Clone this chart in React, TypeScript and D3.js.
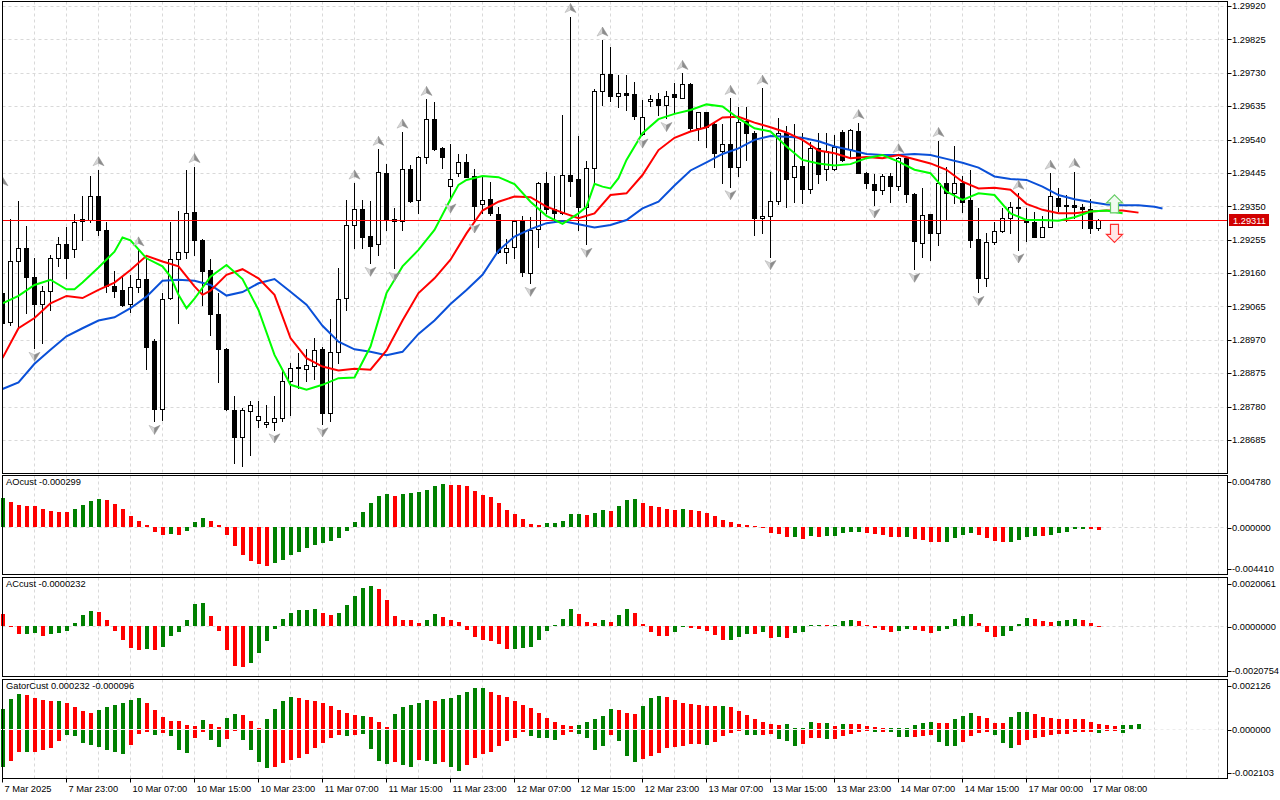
import React from "react";
import * as d3 from "d3";

// H1 bars: [open, high, low, close]
const candles: [number, number, number, number][] = [
  [1.29103, 1.29397, 1.29013, 1.29019], [1.29022, 1.29314, 1.29013, 1.29195], [1.29193, 1.29365, 1.29003, 1.29231],
  [1.29231, 1.29294, 1.29046, 1.29148], [1.29148, 1.29202, 1.28946, 1.29071], [1.29071, 1.29124, 1.28962, 1.29109],
  [1.2911, 1.29212, 1.29055, 1.29202], [1.29202, 1.29262, 1.29181, 1.29242], [1.29242, 1.29292, 1.29145, 1.29202],
  [1.29228, 1.29327, 1.29207, 1.29305], [1.29308, 1.2938, 1.29254, 1.29314], [1.29312, 1.29435, 1.29304, 1.29379],
  [1.29379, 1.29454, 1.29268, 1.29284], [1.29284, 1.29305, 1.29105, 1.29124], [1.29124, 1.29166, 1.29093, 1.2911],
  [1.29112, 1.2915, 1.29067, 1.2907], [1.29071, 1.29154, 1.29048, 1.2912], [1.2912, 1.29226, 1.29107, 1.29143],
  [1.29143, 1.29199, 1.28887, 1.28951], [1.28967, 1.28972, 1.28738, 1.28773], [1.28773, 1.29103, 1.28741, 1.29086],
  [1.29089, 1.29304, 1.29085, 1.29201], [1.29201, 1.29338, 1.29017, 1.29221], [1.29221, 1.29454, 1.29202, 1.2933],
  [1.29334, 1.29463, 1.29212, 1.29253], [1.29253, 1.29256, 1.2907, 1.29167], [1.29169, 1.292, 1.28984, 1.29043],
  [1.29043, 1.29103, 1.28849, 1.28943], [1.28944, 1.28946, 1.28771, 1.28773], [1.28771, 1.28809, 1.28619, 1.28693],
  [1.28693, 1.28776, 1.28612, 1.28771], [1.28767, 1.28795, 1.28643, 1.28784], [1.28741, 1.28795, 1.28721, 1.28754],
  [1.2873, 1.28785, 1.28722, 1.28736], [1.28736, 1.28809, 1.28714, 1.28747], [1.28747, 1.28885, 1.28738, 1.28853],
  [1.28853, 1.28904, 1.28757, 1.28889], [1.28892, 1.28932, 1.28833, 1.28889], [1.28888, 1.28943, 1.28852, 1.28899],
  [1.28896, 1.28975, 1.28859, 1.28942], [1.28943, 1.28951, 1.28731, 1.28761], [1.28761, 1.29029, 1.28738, 1.28935],
  [1.28935, 1.29174, 1.28904, 1.29086], [1.29089, 1.29368, 1.29055, 1.29296], [1.29296, 1.29416, 1.29231, 1.29342],
  [1.29342, 1.29368, 1.29231, 1.29264], [1.29266, 1.29365, 1.29188, 1.29238], [1.29242, 1.29512, 1.29212, 1.29447],
  [1.29444, 1.29471, 1.29283, 1.29311], [1.29314, 1.29344, 1.29174, 1.29308], [1.29308, 1.29561, 1.29283, 1.29455],
  [1.29455, 1.29468, 1.29361, 1.29365], [1.29368, 1.29493, 1.29332, 1.29491], [1.29491, 1.29654, 1.29474, 1.29599],
  [1.29599, 1.29648, 1.2951, 1.29513], [1.29517, 1.2952, 1.29458, 1.29491], [1.29408, 1.29527, 1.29368, 1.29427],
  [1.29444, 1.29499, 1.29436, 1.29477], [1.29477, 1.29499, 1.29432, 1.29434], [1.29436, 1.29455, 1.29311, 1.29351],
  [1.29356, 1.29433, 1.2933, 1.29368], [1.29371, 1.2942, 1.29326, 1.2933], [1.29328, 1.29347, 1.29218, 1.2922],
  [1.2922, 1.29256, 1.29188, 1.29231], [1.29234, 1.29311, 1.29202, 1.29309], [1.29309, 1.29323, 1.29152, 1.29162],
  [1.2916, 1.29319, 1.29131, 1.29283], [1.29285, 1.2942, 1.29234, 1.29417], [1.29417, 1.29449, 1.29332, 1.29342],
  [1.29342, 1.29436, 1.29304, 1.2933], [1.2933, 1.2961, 1.29328, 1.29439], [1.29439, 1.2989, 1.29378, 1.29423],
  [1.29428, 1.2955, 1.29283, 1.29347], [1.29347, 1.29479, 1.29242, 1.29458], [1.29458, 1.29683, 1.29416, 1.29679],
  [1.29678, 1.29823, 1.29638, 1.29726], [1.29726, 1.29804, 1.29651, 1.29665], [1.29665, 1.29724, 1.29634, 1.29672],
  [1.29672, 1.29724, 1.29624, 1.29668], [1.29669, 1.29705, 1.29598, 1.29608], [1.29555, 1.29653, 1.29553, 1.29603],
  [1.2965, 1.29667, 1.29636, 1.29655], [1.29656, 1.29672, 1.2961, 1.29637], [1.29637, 1.29678, 1.296, 1.29665],
  [1.29669, 1.297, 1.29619, 1.29662], [1.29659, 1.29728, 1.29657, 1.29697], [1.29697, 1.297, 1.29567, 1.29572],
  [1.29572, 1.29619, 1.29539, 1.29617], [1.29617, 1.29619, 1.2952, 1.29577], [1.29584, 1.29591, 1.29461, 1.29503],
  [1.29506, 1.29584, 1.29416, 1.29527], [1.29527, 1.29657, 1.29406, 1.29463], [1.29463, 1.29632, 1.29436, 1.29591],
  [1.29594, 1.29634, 1.29482, 1.2956], [1.2956, 1.29563, 1.29269, 1.29318], [1.29316, 1.29686, 1.29273, 1.29321],
  [1.29321, 1.29449, 1.29207, 1.29366], [1.29366, 1.296, 1.29357, 1.2956], [1.2956, 1.29579, 1.29349, 1.29428],
  [1.29433, 1.29584, 1.29363, 1.29465], [1.29465, 1.29558, 1.29359, 1.29399], [1.29399, 1.29534, 1.29389, 1.29515],
  [1.29515, 1.29558, 1.29416, 1.29441], [1.29455, 1.2956, 1.29425, 1.29506], [1.29455, 1.29553, 1.29454, 1.2952],
  [1.29561, 1.29567, 1.2948, 1.29482], [1.29512, 1.29569, 1.29491, 1.29567], [1.29564, 1.29588, 1.29444, 1.29446],
  [1.29446, 1.29449, 1.29401, 1.29416], [1.29413, 1.29442, 1.29354, 1.29395], [1.29395, 1.29442, 1.29384, 1.29435],
  [1.29435, 1.29444, 1.29362, 1.29409], [1.29409, 1.29491, 1.29395, 1.29487], [1.29487, 1.29488, 1.29363, 1.29384],
  [1.29384, 1.29387, 1.29171, 1.2925], [1.29245, 1.29401, 1.29207, 1.29324], [1.29327, 1.29327, 1.29196, 1.29275],
  [1.29275, 1.29537, 1.2924, 1.29416], [1.29416, 1.29463, 1.29311, 1.29387], [1.29387, 1.29523, 1.29359, 1.29416],
  [1.29416, 1.29436, 1.29335, 1.29363], [1.29368, 1.29452, 1.29234, 1.29253], [1.29256, 1.29344, 1.29105, 1.29145],
  [1.29145, 1.29273, 1.29124, 1.29248], [1.29248, 1.29304, 1.29242, 1.2928], [1.2928, 1.29346, 1.29278, 1.29316],
  [1.29316, 1.29361, 1.29273, 1.29349], [1.29349, 1.29387, 1.29226, 1.29344], [1.29309, 1.29344, 1.2925, 1.29304],
  [1.29304, 1.29335, 1.29262, 1.29264], [1.29264, 1.29321, 1.29262, 1.29292], [1.29292, 1.29444, 1.2929, 1.29378],
  [1.29373, 1.29401, 1.29337, 1.29352], [1.29351, 1.29382, 1.29307, 1.29354], [1.29354, 1.29449, 1.29316, 1.29347],
  [1.29347, 1.29357, 1.29288, 1.29342], [1.29342, 1.29371, 1.29275, 1.29287], [1.29287, 1.29314, 1.29283, 1.29311],
];

const lastPrice = 1.29311;

// Alligator lines as [bar, price]; drawn already shifted forward
const jaw: [number, number][] = [
  [0, 1.2883], [2, 1.28849], [4, 1.28902], [6, 1.28942], [8, 1.2898], [10, 1.29003], [12, 1.29025], [14, 1.29034],
  [16, 1.2906], [18, 1.29093], [20, 1.29138], [22, 1.29141], [24, 1.29138], [26, 1.29126], [28, 1.29096], [30, 1.29106],
  [32, 1.29131], [34, 1.29143], [36, 1.29107], [38, 1.2907], [40, 1.2901], [42, 1.28965], [44, 1.28943], [46, 1.28936],
  [48, 1.28926], [50, 1.28936], [52, 1.28987], [54, 1.29025], [56, 1.29072], [58, 1.29112], [60, 1.29155], [62, 1.29224],
  [64, 1.29264], [66, 1.29285], [68, 1.29302], [70, 1.29308], [72, 1.29299], [74, 1.2929], [76, 1.29297], [78, 1.29311],
  [80, 1.29344], [82, 1.29363], [84, 1.29409], [86, 1.29452], [88, 1.29475], [90, 1.29499], [92, 1.29515], [94, 1.29539],
  [96, 1.2955], [98, 1.29548], [100, 1.29545], [102, 1.29535], [104, 1.2952], [106, 1.2951], [108, 1.29499], [110, 1.29496],
  [112, 1.29496], [114, 1.29499], [116, 1.29496], [118, 1.29485], [120, 1.29474], [122, 1.2946], [124, 1.29435],
  [126, 1.29428], [128, 1.29425], [130, 1.29406], [132, 1.29382], [134, 1.2937], [136, 1.29362], [138, 1.29355],
  [140, 1.29353], [142, 1.29353], [144, 1.29349], [145, 1.29344],
];
const teeth: [number, number][] = [
  [0, 1.28918], [2, 1.29003], [4, 1.29032], [6, 1.29074], [8, 1.29095], [10, 1.29089], [12, 1.29112], [14, 1.29133],
  [16, 1.29169], [18, 1.29209], [20, 1.29193], [22, 1.29179], [24, 1.29122], [25, 1.29098], [26, 1.2911], [28, 1.29155],
  [30, 1.29171], [32, 1.29145], [34, 1.29098], [36, 1.28975], [38, 1.28918], [40, 1.28894], [42, 1.28883], [44, 1.28888],
  [46, 1.28885], [48, 1.2894], [50, 1.29025], [52, 1.29103], [54, 1.29145], [56, 1.29198], [58, 1.29273], [60, 1.29338],
  [62, 1.29363], [64, 1.29378], [66, 1.29376], [68, 1.29349], [70, 1.29332], [72, 1.29316], [74, 1.2933], [76, 1.29382],
  [78, 1.29387], [80, 1.29439], [82, 1.2951], [84, 1.29545], [86, 1.29563], [88, 1.29575], [90, 1.29603], [92, 1.29605],
  [94, 1.29588], [96, 1.29575], [98, 1.2956], [100, 1.29539], [102, 1.29509], [104, 1.29501], [106, 1.29487],
  [108, 1.2949], [110, 1.29487], [112, 1.29496], [114, 1.29484], [116, 1.29472], [118, 1.29454], [120, 1.2942],
  [122, 1.29401], [124, 1.29403], [126, 1.29397], [128, 1.29357], [130, 1.2934], [132, 1.2933], [134, 1.2933],
  [136, 1.29335], [138, 1.29338], [140, 1.29338], [142, 1.29332],
];
const lips: [number, number][] = [
  [0, 1.29074], [2, 1.29095], [4, 1.29126], [6, 1.29141], [8, 1.29114], [9, 1.29114], [10, 1.29133], [12, 1.29176],
  [14, 1.29221], [15, 1.29261], [16, 1.29253], [18, 1.29202], [20, 1.29179], [21, 1.2915], [22, 1.29098], [23, 1.2906],
  [24, 1.29087], [26, 1.2915], [28, 1.29183], [30, 1.29143], [32, 1.29055], [34, 1.28927], [36, 1.28842], [38, 1.28828],
  [40, 1.28842], [42, 1.28861], [44, 1.28863], [46, 1.28951], [48, 1.29103], [50, 1.29179], [52, 1.29226], [54, 1.29283],
  [56, 1.2937], [57, 1.29411], [58, 1.29425], [60, 1.29436], [62, 1.29433], [64, 1.29413], [66, 1.29363], [68, 1.29323],
  [70, 1.293], [72, 1.2933], [73, 1.29349], [74, 1.29414], [75, 1.29406], [76, 1.29401], [77, 1.2943], [78, 1.29482],
  [80, 1.29558], [82, 1.29598], [84, 1.29613], [86, 1.29624], [88, 1.2964], [90, 1.29634], [92, 1.296], [94, 1.29572],
  [96, 1.29563], [98, 1.2952], [100, 1.29482], [102, 1.29472], [104, 1.29466], [106, 1.2947], [108, 1.29487],
  [110, 1.29496], [112, 1.29477], [114, 1.29454], [116, 1.29444], [117, 1.29418], [118, 1.29392], [120, 1.29368],
  [122, 1.29387], [124, 1.29382], [126, 1.2933], [128, 1.29311], [130, 1.29311], [132, 1.29309], [134, 1.29319],
  [136, 1.29335], [138, 1.29338], [140, 1.2933],
];

const fractalUp = [0, 12, 17, 24, 44, 47, 50, 53, 71, 75, 85, 91, 95, 107, 112, 117, 127, 131, 134];
const fractalDown = [4, 19, 34, 40, 46, 49, 56, 59, 66, 73, 80, 83, 91, 96, 109, 114, 122, 127];
const signals = [
  { bar: 139, side: "buy", price: 1.29357 },
  { bar: 139, side: "sell", price: 1.29273 },
];

const priceTicks = [1.2992, 1.29825, 1.2973, 1.29635, 1.2954, 1.29445, 1.2935, 1.29255, 1.2916, 1.29065, 1.2897, 1.28875, 1.2878, 1.28685];
const timeLabels = [
  "7 Mar 2025", "7 Mar 23:00", "10 Mar 07:00", "10 Mar 15:00", "10 Mar 23:00", "11 Mar 07:00", "11 Mar 15:00",
  "11 Mar 23:00", "12 Mar 07:00", "12 Mar 15:00", "12 Mar 23:00", "13 Mar 07:00", "13 Mar 15:00", "13 Mar 23:00",
  "14 Mar 07:00", "14 Mar 15:00", "17 Mar 00:00", "17 Mar 08:00",
];

// Awesome oscillator
const aoBefore = 0.0025;
const aoValues = [
  0.00266, 0.0023, 0.00202, 0.00199, 0.00193, 0.00168, 0.00147, 0.00138, 0.00135, 0.00168,
  0.00202, 0.00239, 0.00257, 0.00248, 0.00211, 0.00168, 0.00104, 0.00055, 0.00021, -0.00046,
  -0.00077, -0.00061, -0.0007, -0.00037, 0.00046, 0.00086, 0.00055, 0.00021, -0.0007, -0.00181,
  -0.0026, -0.00315, -0.00346, -0.00358, -0.00337, -0.00303, -0.00263, -0.00233, -0.00199, -0.00168,
  -0.00153, -0.00132, -0.00098, -0.00037, 0.00046, 0.00138, 0.0022, 0.00285, 0.00303, 0.00285,
  0.00306, 0.00318, 0.00321, 0.0034, 0.00383, 0.00395, 0.00392, 0.00389, 0.00376, 0.0033,
  0.00294, 0.00275, 0.0022, 0.00156, 0.00119, 0.00073, 0.00028, 0.00021, 0.00037, 0.0004,
  0.00058, 0.00122, 0.00125, 0.0011, 0.00129, 0.00156, 0.00153, 0.00193, 0.00248, 0.00257,
  0.0022, 0.00193, 0.00184, 0.00165, 0.00156, 0.00165, 0.00156, 0.00147, 0.00129, 0.00101,
  0.00064, 0.00046, 0.00028, 0.00018, 0.00003, -0.00003, -0.00055, -0.00064, -0.00092, -0.00089,
  -0.0011, -0.00083, -0.00092, -0.00083, -0.0008, -0.00055, -0.00046, -0.00043, -0.00055, -0.00064,
  -0.00073, -0.00092, -0.00095, -0.00092, -0.0011, -0.00119, -0.00138, -0.00141, -0.00138, -0.00101,
  -0.00073, -0.00055, -0.00073, -0.00101, -0.00129, -0.00138, -0.00135, -0.00119, -0.00092, -0.0008,
  -0.00083, -0.00073, -0.00055, -0.00046, -0.00018, -0.00015, -0.00018, -0.000299,
];
const aoRange = [-0.00441, 0.00478];

// Accelerator oscillator
const acBefore = 0.0006;
const acValues = [
  0.00052, -0.00005, -0.00034, -0.00031, -0.00027, -0.00039, -0.00034, -0.00027, -0.00019, 0.00014,
  0.00046, 0.00063, 0.00058, 0.00027, -0.00018, -0.00058, -0.00091, -0.00099, -0.00095, -0.00099,
  -0.00087, -0.00042, -0.00026, 0.00026, 0.00091, 0.00095, 0.00042, -0.00018, -0.00099, -0.00163,
  -0.00169, -0.00152, -0.00112, -0.00063, -0.0001, 0.0003, 0.00054, 0.00065, 0.00068, 0.00069,
  0.00054, 0.00046, 0.00054, 0.00087, 0.00124, 0.00156, 0.00165, 0.00152, 0.00109, 0.00042,
  0.00027, 0.00026, 0.00014, 0.00027, 0.0005, 0.00038, 0.00027, 0.00018, -0.00014, -0.00046,
  -0.00058, -0.0006, -0.00075, -0.00095, -0.00093, -0.00091, -0.00087, -0.00058, -0.00018, 0.00003,
  0.0003, 0.00071, 0.0005, 0.00016, 0.00012, 0.00024, 0.00016, 0.00045, 0.00069, 0.00053,
  0.00008, -0.00024, -0.00041, -0.00042, -0.00024, -0.00004, -0.00008, -0.0001, -0.0002, -0.00037,
  -0.00057, -0.00056, -0.00045, -0.00033, -0.00034, -0.00024, -0.00049, -0.00045, -0.00049, -0.00029,
  -0.00024, 0.00004, 0.00005, 0.00004, 0.00005, 0.0002, 0.00024, 0.0002, 0.00003, -0.00008,
  -0.00016, -0.00024, -0.0002, -0.00012, -0.00016, -0.0002, -0.00029, -0.0002, -0.00012, 0.00029,
  0.00041, 0.00049, 0.00012, -0.00024, -0.00045, -0.00041, -0.0002, 0.00008, 0.00033, 0.00031,
  0.0002, 0.00016, 0.0002, 0.00024, 0.00029, 0.00024, 0.00012, -0.0000232,
];
const acRange = [-0.0020754, 0.0020061];

// Gator oscillator: upper = |jaw - teeth|, lower = |teeth - lips| (drawn below zero)
const gatorUpper = [
  0.000852, 0.001278, 0.001491, 0.001463, 0.001321, 0.001235, 0.001193, 0.0012, 0.001108, 0.000937,
  0.000767, 0.000682, 0.000809, 0.000937, 0.001022, 0.001108, 0.001235, 0.001321, 0.001122, 0.000809,
  0.000511, 0.000341, 0.000335, 0.00017, 0.000128, 0.000383, 0.000213, 0.000085, 0.000469, 0.000639,
  0.000596, 0.000341, 0.000043, 0.000426, 0.000852, 0.001193, 0.001363, 0.001321, 0.001235, 0.001193,
  0.001108, 0.00098, 0.000809, 0.000682, 0.000596, 0.000554, 0.000511, 0.000312, 0.000114, 0.000639,
  0.000937, 0.001022, 0.001108, 0.001235, 0.001193, 0.001278, 0.001321, 0.001448, 0.001576, 0.001747,
  0.00175, 0.001576, 0.001448, 0.001363, 0.001193, 0.001022, 0.000895, 0.000682, 0.000469, 0.000298,
  0.00017, 0.000128, 0.00017, 0.000298, 0.000426, 0.000554, 0.000852, 0.000809, 0.000682, 0.000639,
  0.00098, 0.001321, 0.001406, 0.001363, 0.001235, 0.001108, 0.001065, 0.001022, 0.00098, 0.000975,
  0.000985, 0.000937, 0.000767, 0.000596, 0.000426, 0.000312, 0.000213, 0.00017, 0.000213, 0.000028,
  0.000043, 0.000298, 0.000256, 0.00026, 0.000128, 0.000213, 0.00021, 0.000205, 0.000128, 0.000085,
  0.000043, 0.000014, 0.000043, 0.000045, 0.00017, 0.000256, 0.000298, 0.000256, 0.00025, 0.000426,
  0.000554, 0.000682, 0.000554, 0.000469, 0.000256, 0.00025, 0.000511, 0.000724, 0.00073, 0.000639,
  0.000511, 0.000469, 0.000426, 0.000424, 0.000422, 0.00042, 0.000298, 0.000232, 0.00017, 0.000128,
  0.00017, 0.000175, 0.000213,
];
const gatorUpperColors =
  "gggrrrrgrr" + "rrggggggrr" + "rrrrrgrrgg" + "rrrggggrrr" + "rrrrrgrrrg" + "ggggrggggg" + "grrrrrrrrr" +
  "rrgggggrrr" + "gggrrrrrrr" + "grrrrrrrgg" + "ggrgrgrrrr" + "rggggggrrg" + "ggrrrrgggr" + "rrrrrrrrrr" + "ggg";
const gatorLower = [
  0.001548, 0.001306, 0.000923, 0.000937, 0.000923, 0.000852, 0.000767, 0.000454, 0.000199, 0.000241,
  0.000525, 0.000625, 0.00071, 0.000838, 0.000923, 0.001022, 0.000625, 0.000156, 0.000071, 0.000199,
  0.000114, 0.000241, 0.000838, 0.000966, 0.000327, 0.000071, 0.000412, 0.00071, 0.000369, 0.000028,
  0.000412, 0.000838, 0.001349, 0.001605, 0.001562, 0.001377, 0.001264, 0.001179, 0.001008, 0.000753,
  0.000525, 0.000327, 0.000199, 0.000241, 0.000199, 0.000156, 0.000795, 0.001292, 0.001448, 0.001349,
  0.001491, 0.001576, 0.001264, 0.001321, 0.001448, 0.001349, 0.001576, 0.001732, 0.001477, 0.001193,
  0.001022, 0.000923, 0.000667, 0.000469, 0.000341, 0.000085, 0.000241, 0.000341, 0.000345, 0.000426,
  0.000199, 0.000085, 0.000156, 0.000341, 0.000852, 0.000667, 0.000199, 0.000469, 0.001108, 0.001349,
  0.001235, 0.001093, 0.000966, 0.000767, 0.000724, 0.000682, 0.000582, 0.00058, 0.000639, 0.000511,
  0.000241, 0.000114, 0.000043, 0.000199, 0.0002, 0.000185, 0.000156, 0.000383, 0.000454, 0.000667,
  0.000596, 0.000341, 0.00034, 0.000383, 0.00038, 0.000256, 0.000156, 0.000071, 0.000043, 0.000071,
  0.00007, 0.000072, 0.000298, 0.0003, 0.000296, 0.000256, 0.000213, 0.000511, 0.000682, 0.000685,
  0.000511, 0.000256, 0.000114, 0.000071, 0.000213, 0.000554, 0.000767, 0.000639, 0.000426, 0.000341,
  0.000298, 0.000213, 0.00017, 0.000168, 0.000085, 0.000071, 0.000057, 0.000096, 0.000043, 0.000028,
  0.000128,
];
const gatorLowerColors =
  "grrgrrrrgg" + "ggggggrrrg" + "rgggrrggrr" + "ggggrrrrrr" + "rrrgrggggr" + "ggrggrggrr" + "rrrrrrgggg" +
  "rrggggrggg" + "rrrrrrrrgr" + "rrrggrrggg" + "rrrgrrrrrg" + "rgggrrrggg" + "rrrrgggrrr" + "rrrrrrrgrr" + "g";
const gatorRange = [-0.002103, 0.002126];

const FONT = "'Liberation Sans', Arial, sans-serif";
const FS = 9.3;
const GREEN = "#008000";
const RED = "#ff0000";
const GRID = "#d9d9d9";

const LEFT = 2.5;
const RIGHT = 1227.5;
const LABEL_X = 1232;
const BAR = 8;
const MAIN = { top: 1.5, bottom: 473.5 };
const AO_BOX = { top: 475.5, bottom: 574.5 };
const AC_BOX = { top: 577.5, bottom: 676.5 };
const GATOR_BOX = { top: 679.5, bottom: 778.5 };

const x = d3.scaleLinear().domain([0, 1]).range([LEFT, LEFT + BAR]);
const y = d3
  .scaleLinear()
  .domain([priceTicks[priceTicks.length - 1], priceTicks[0]])
  .range([440, 6]);

const gridX = d3.range(4, 153, 4).map((i) => x(i));

const upArrowL = "M0,-5L0,1.5L-5.5,4Z";
const upArrowR = "M0,-5L5.5,4L0,1.5Z";

function Fractal({ cx, cy, down }: { cx: number; cy: number; down: boolean }) {
  return (
    <g transform={`translate(${cx},${cy}) scale(1,${down ? -1 : 1})`}>
      <path d={upArrowL} fill="#d6d6d6" stroke="#a8a8a8" strokeWidth={0.5} />
      <path d={upArrowR} fill="#8c8c8c" stroke="#8c8c8c" strokeWidth={0.5} />
    </g>
  );
}

function SubPanel({
  box,
  scale,
  title,
  ticks,
  digits,
  children,
  zeroOnTop,
}: {
  box: { top: number; bottom: number };
  scale: d3.ScaleLinear<number, number>;
  title: string;
  ticks: number[];
  digits: number;
  children: React.ReactNode;
  zeroOnTop?: boolean;
}) {
  const zy = Math.round(scale(0)) + 0.5;
  const labelY = [box.top + 6, zy, box.bottom - 5.5];
  const zero = (
    <line x1={LEFT} x2={RIGHT} y1={zy} y2={zy} stroke={zeroOnTop ? "#ececec" : GRID} strokeDasharray="3 3" />
  );
  return (
    <g>
      <rect x={LEFT} y={box.top} width={RIGHT - LEFT} height={box.bottom - box.top} fill="#fff" />
      {gridX.map((gx, i) => (
        <line key={i} x1={gx} x2={gx} y1={box.top} y2={box.bottom} stroke={GRID} strokeDasharray="3 3" />
      ))}
      {!zeroOnTop && zero}
      {children}
      {zeroOnTop && zero}
      <rect x={LEFT} y={box.top} width={RIGHT - LEFT} height={box.bottom - box.top} fill="none" stroke="#000" />
      <text x={6} y={box.top + 9.5} fontSize={FS}>
        {title}
      </text>
      {ticks.map((t, i) => (
        <g key={i}>
          <line
            x1={RIGHT}
            x2={RIGHT + 4}
            y1={Math.round(labelY[i]) + 0.5}
            y2={Math.round(labelY[i]) + 0.5}
            stroke="#000"
          />
          <text x={LABEL_X} y={labelY[i]} dy="0.35em" fontSize={FS}>
            {t.toFixed(digits)}
          </text>
        </g>
      ))}
    </g>
  );
}

function barRect(key: string, i: number, v: number, scale: d3.ScaleLinear<number, number>, fill: string, gap = 0) {
  const z = Math.round(scale(0));
  let t = Math.round(scale(v));
  if (t === z) t = v >= 0 ? z - 1 : z + 1;
  const top = Math.min(t, z) + (v < 0 ? gap : 0);
  const h = Math.max(1, Math.abs(t - z));
  return <rect key={key} x={Math.round(x(i) - 2)} y={top} width={4} height={h} fill={fill} />;
}

export default function App() {
  const aoY = d3.scaleLinear().domain(aoRange).range([AO_BOX.bottom, AO_BOX.top]);
  const acY = d3.scaleLinear().domain(acRange).range([AC_BOX.bottom, AC_BOX.top]);
  const gY = d3.scaleLinear().domain(gatorRange).range([GATOR_BOX.bottom, GATOR_BOX.top]);

  const line = d3
    .line<[number, number]>()
    .x((d) => x(d[0]))
    .y((d) => y(d[1]));

  const lastY = Math.round(y(lastPrice)) + 0.5;

  return (
    <svg
      width={1280}
      height={800}
      style={{ position: "absolute", left: 0, top: 0, background: "#fff" }}
      fontFamily={FONT}
    >
      <defs>
        <clipPath id="mainClip">
          <rect x={LEFT} y={MAIN.top} width={RIGHT - LEFT} height={MAIN.bottom - MAIN.top} />
        </clipPath>
      </defs>
      <rect width={1280} height={800} fill="#fff" />

      {/* main price panel */}
      <g clipPath="url(#mainClip)">
        {gridX.map((gx, i) => (
          <line key={i} x1={gx} x2={gx} y1={MAIN.top} y2={MAIN.bottom} stroke={GRID} strokeDasharray="3 3" />
        ))}
        {priceTicks.map((p, i) => (
          <line
            key={i}
            x1={LEFT}
            x2={RIGHT}
            y1={Math.round(y(p)) + 0.5}
            y2={Math.round(y(p)) + 0.5}
            stroke={GRID}
            strokeDasharray="3 3"
          />
        ))}
        {candles.map(([o, h, l, c], i) => {
          const cx = x(i);
          const top = Math.round(y(Math.max(o, c))) + 0.5;
          const bot = Math.round(y(Math.min(o, c))) + 0.5;
          return (
            <g key={i}>
              <line x1={cx} x2={cx} y1={Math.round(y(h))} y2={Math.round(y(l)) + 1} stroke="#000" />
              {bot - top < 1 ? (
                <line x1={cx - 2.5} x2={cx + 2.5} y1={top} y2={top} stroke="#000" />
              ) : (
                <rect x={cx - 2} y={top} width={4} height={bot - top} fill={c >= o ? "#fff" : "#000"} stroke="#000" />
              )}
            </g>
          );
        })}
        <line x1={LEFT} x2={RIGHT} y1={lastY} y2={lastY} stroke={RED} />
        <path d={line(jaw) ?? ""} fill="none" stroke="#0a50d8" strokeWidth={2} />
        <path d={line(teeth) ?? ""} fill="none" stroke="#ff0000" strokeWidth={2} />
        <path d={line(lips) ?? ""} fill="none" stroke="#00ff00" strokeWidth={2} />
        {fractalUp.map((i) => (
          <Fractal key={"u" + i} cx={x(i)} cy={y(candles[i][1]) - 8} down={false} />
        ))}
        {fractalDown.map((i) => (
          <Fractal key={"d" + i} cx={x(i)} cy={y(candles[i][2]) + 8} down />
        ))}
        {signals.map((s, k) => (
          <path
            key={k}
            transform={`translate(${x(s.bar)},${y(s.price)}) scale(1,${s.side === "buy" ? 1 : -1})`}
            d="M0,-9L8,-1L4,-1L4,9L-4,9L-4,-1L-8,-1Z"
            fill={s.side === "buy" ? "#f0fbf0" : "#ffe8e8"}
            stroke={s.side === "buy" ? "#66cc66" : "#ff3030"}
            strokeWidth={1.2}
          />
        ))}
      </g>
      <rect x={LEFT} y={MAIN.top} width={RIGHT - LEFT} height={MAIN.bottom - MAIN.top} fill="none" stroke="#000" />
      {priceTicks.map((p, i) => (
        <g key={i}>
          <line x1={RIGHT} x2={RIGHT + 4} y1={Math.round(y(p)) + 0.5} y2={Math.round(y(p)) + 0.5} stroke="#000" />
          <text x={LABEL_X} y={y(p)} dy="0.35em" fontSize={FS}>
            {p.toFixed(5)}
          </text>
        </g>
      ))}
      <rect x={1229} y={lastY - 6.5} width={40} height={12} fill="#d10000" />
      <text x={LABEL_X + 1} y={lastY} dy="0.35em" fontSize={FS} fill="#fff">
        {lastPrice.toFixed(5)}
      </text>

      {/* AO */}
      <SubPanel
        box={AO_BOX}
        scale={aoY}
        title={`AOcust ${aoValues[aoValues.length - 1].toFixed(6)}`}
        ticks={[aoRange[1], 0, aoRange[0]]}
        digits={6}
      >
        {aoValues.map((v, i) =>
          barRect("ao" + i, i, v, aoY, v >= (i ? aoValues[i - 1] : aoBefore) ? GREEN : RED)
        )}
      </SubPanel>

      {/* AC */}
      <SubPanel
        box={AC_BOX}
        scale={acY}
        title={`ACcust ${acValues[acValues.length - 1].toFixed(7)}`}
        ticks={[acRange[1], 0, acRange[0]]}
        digits={7}
      >
        {acValues.map((v, i) =>
          barRect("ac" + i, i, v, acY, v >= (i ? acValues[i - 1] : acBefore) ? GREEN : RED)
        )}
      </SubPanel>

      {/* Gator */}
      <SubPanel
        box={GATOR_BOX}
        scale={gY}
        title={`GatorCust ${gatorUpper[137].toFixed(6)} ${(-gatorLower[137]).toFixed(6)}`}
        ticks={[gatorRange[1], 0, gatorRange[0]]}
        digits={6}
        zeroOnTop
      >
        {gatorUpper.map((v, i) => barRect("gu" + i, i, v, gY, gatorUpperColors[i] === "g" ? GREEN : RED))}
        {gatorLower.map((v, i) => barRect("gl" + i, i, -v, gY, gatorLowerColors[i] === "g" ? GREEN : RED, 1))}
      </SubPanel>

      {/* time axis */}
      {timeLabels.map((t, k) => {
        const tx = x(k * 8);
        return (
          <g key={k}>
            <line x1={tx} x2={tx} y1={GATOR_BOX.bottom} y2={GATOR_BOX.bottom + 4} stroke="#000" />
            <text x={tx + 2} y={792} fontSize={FS}>
              {t}
            </text>
          </g>
        );
      })}
    </svg>
  );
}
